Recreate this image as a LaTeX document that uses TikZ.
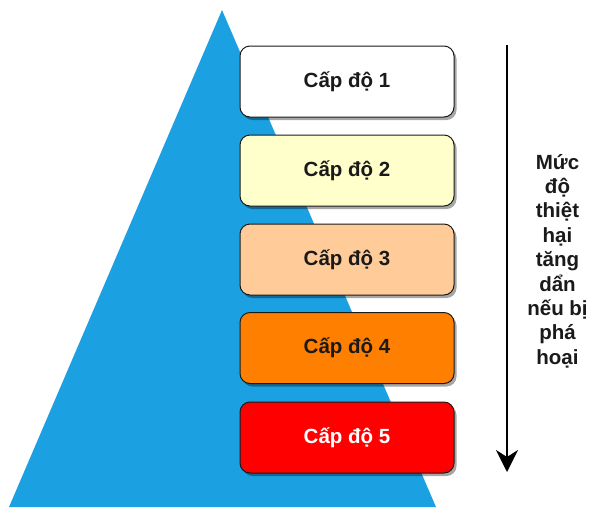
\documentclass[tikz,border=0pt]{standalone}
\usepackage{fontspec}
\setmainfont{Liberation Sans}
\usetikzlibrary{arrows.meta,shadows}
\definecolor{pyrblue}{HTML}{1BA1E2}
\definecolor{lvlone}{HTML}{FFFFFF}
\definecolor{lvltwo}{HTML}{FFFFCC}
\definecolor{lvlthree}{HTML}{FFCC99}
\definecolor{lvlfour}{HTML}{FF8000}
\definecolor{lvlfive}{HTML}{FF0000}
\definecolor{boxline}{HTML}{1A1A1A}
\tikzset{
  lvlbox/.style={draw=boxline, line width=1pt, rounded corners=10pt,
    minimum width=214pt, minimum height=71pt, inner sep=0pt,
    font=\bfseries\fontsize{20.5pt}{24pt}\selectfont, text=boxline,
    drop shadow={shadow xshift=2.5pt, shadow yshift=-3pt, opacity=0.35, fill=black}},
  sidelabel/.style={align=center, inner sep=0pt,
    font=\bfseries\fontsize{20.5pt}{24.4pt}\selectfont, text=boxline},
  downarrow/.style={line width=2pt, draw=black, -{Stealth[length=22pt,width=22pt,inset=7pt]}}
}
\begin{document}
\begin{tikzpicture}[x=1pt,y=-1pt]
\useasboundingbox (0,0) rectangle (589,507);
\fill[pyrblue] (222,10) -- (436,507) -- (9,507) -- cycle;
\node[lvlbox, fill=lvlone]   (l1) at (347,81.5)  {Cấp độ 1};
\node[lvlbox, fill=lvltwo]   (l2) at (347,170.5) {Cấp độ 2};
\node[lvlbox, fill=lvlthree] (l3) at (347,259.5) {Cấp độ 3};
\node[lvlbox, fill=lvlfour]  (l4) at (347,348)   {Cấp độ 4};
\node[lvlbox, fill=lvlfive, text=white] (l5) at (347,437.5) {Cấp độ 5};
\coordinate (atop) at (507,45);
\coordinate (abot) at (507,472);
\draw[downarrow] (atop) -- (abot);
\node[sidelabel] (lab) at (557.5,261) {Mức\\độ\\thiệt\\hại\\tăng\\dẩn\\nếu bị\\phá\\hoại};
\end{tikzpicture}
\end{document}
